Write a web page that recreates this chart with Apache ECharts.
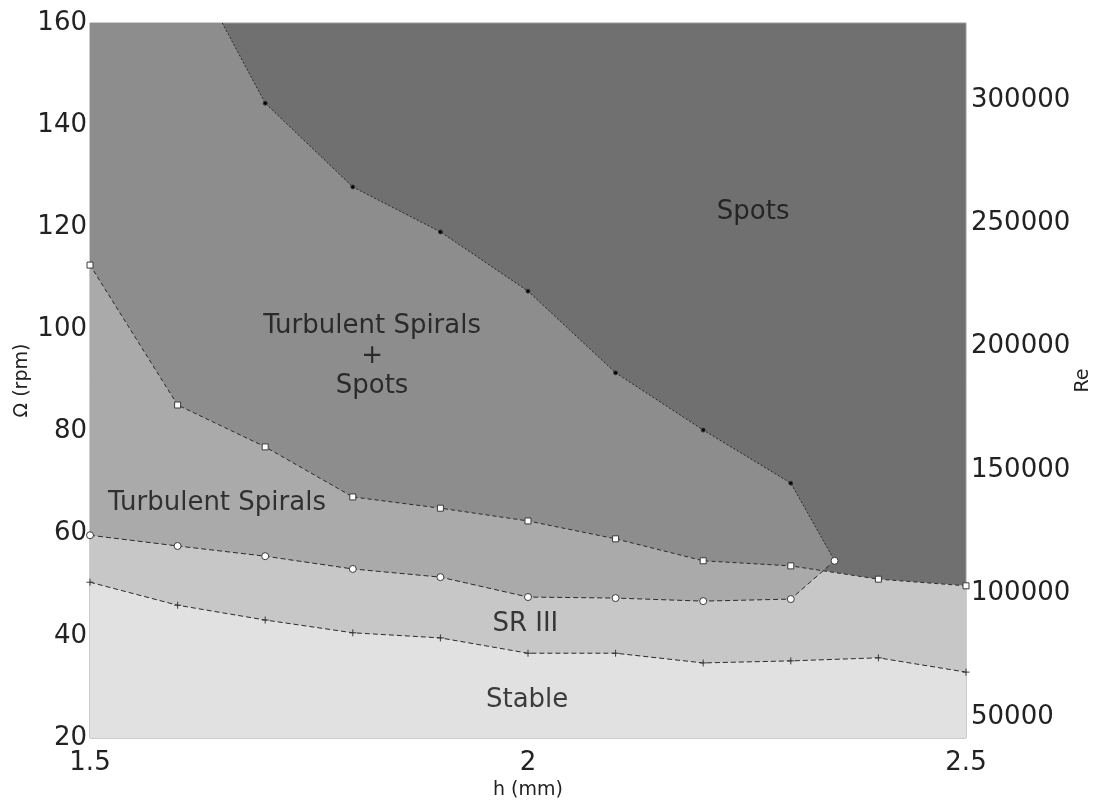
<!DOCTYPE html>
<html>
<head>
<meta charset="utf-8">
<title>Flow regimes: Ω vs h</title>
<script src="https://cdn.jsdelivr.net/npm/echarts@6/dist/echarts.min.js"></script>
<style>
  html, body { margin: 0; padding: 0; background: #ffffff; }
  #chart { width: 1095px; height: 806px; }
</style>
</head>
<body>
<div id="chart"></div>
<script>
// Gap widths h (mm) at which the transitions were measured
const hValues = [1.5, 1.6, 1.7, 1.8, 1.9, 2.0, 2.1, 2.2, 2.3, 2.4, 2.5];

// Stable -> SR III transition (rpm), one value per hValues entry
const stableLimit = [50.5, 46.0, 43.1, 40.6, 39.6, 36.6, 36.6, 34.7, 35.1, 35.7, 32.9];

// SR III -> Turbulent Spirals transition (rpm); last point is the triple point
const sr3H = [1.5, 1.6, 1.7, 1.8, 1.9, 2.0, 2.1, 2.2, 2.3, 2.35];
const sr3Limit = [59.7, 57.6, 55.6, 53.1, 51.5, 47.6, 47.4, 46.8, 47.2, 54.7];

// Turbulent Spirals -> Turbulent Spirals + Spots transition (rpm), per hValues
const spiralLimit = [112.6, 85.2, 77.0, 67.2, 65.0, 62.5, 59.0, 54.7, 53.7, 51.1, 49.8];

// Onset of pure Spots (rpm); starts where it leaves the top of the range
const spotsH = [1.651, 1.7, 1.8, 1.9, 2.0, 2.1, 2.2, 2.3, 2.35];
const spotsLimit = [160, 144.3, 127.9, 119.1, 107.5, 91.5, 80.3, 69.9, 54.7];

// Axis ranges and ticks
const omegaMin = 20, omegaMax = 160, omegaStep = 20;
const hTicks = [1.5, 2, 2.5];
const reTicks = [50000, 100000, 150000, 200000, 250000, 300000];
const rePerRpm = 2070; // Re = rePerRpm * Ω

// Region names
const regionNames = ['Spots', 'Turbulent Spirals\n+\nSpots', 'Turbulent Spirals', 'SR III', 'Stable'];

// Where each region name is written (h, Ω)
const regionAnchors = [[2.257, 123.0], [1.822, 94.8], [1.645, 66.0], [1.997, 42.3], [1.999, 27.4]];

const zip = (xs, ys) => xs.map((x, i) => [x, ys[i]]);

const stablePts = zip(hValues, stableLimit);
const sr3Pts = zip(sr3H, sr3Limit);
const spiralPts = zip(hValues, spiralLimit);
const spotsPts = zip(spotsH, spotsLimit);

// Where the last SR III segment crosses the spiral boundary
function segmentCrossing(a, b, c, d) {
  const r = [b[0] - a[0], b[1] - a[1]];
  const s = [d[0] - c[0], d[1] - c[1]];
  const den = r[0] * s[1] - r[1] * s[0];
  if (Math.abs(den) < 1e-12) return null;
  const t = ((c[0] - a[0]) * s[1] - (c[1] - a[1]) * s[0]) / den;
  const u = ((c[0] - a[0]) * r[1] - (c[1] - a[1]) * r[0]) / den;
  if (t < 0 || t > 1 || u < 0 || u > 1) return null;
  return [a[0] + t * r[0], a[1] + t * r[1]];
}
let junction = null;
{
  const a = sr3Pts[sr3Pts.length - 2], b = sr3Pts[sr3Pts.length - 1];
  for (let i = 0; i < spiralPts.length - 1 && !junction; i++) {
    junction = segmentCrossing(a, b, spiralPts[i], spiralPts[i + 1]);
  }
}
const spiralAfterJunction = spiralPts.filter(p => p[0] > junction[0]);

// Upper outlines of the filled bands (each fills down to Ω = omegaMin)
const mixedTop = [[hValues[0], omegaMax]].concat(spotsPts, [junction], spiralAfterJunction);
const spiralTop = spiralPts;
const sr3Top = sr3Pts.slice(0, -1).concat([junction], spiralAfterJunction);
const stableTop = stablePts;

const colors = {
  spots: '#707070',
  mixed: '#8d8d8d',
  spirals: '#aaaaaa',
  sr3: '#c7c7c7',
  stable: '#e1e1e1'
};

function band(data, color, z) {
  return {
    type: 'line',
    data: data,
    symbol: 'none',
    silent: true,
    z: z,
    lineStyle: { width: 0, opacity: 0 },
    areaStyle: { color: color, opacity: 1, origin: 'start' }
  };
}

function boundary(data, symbol, size, fill, dash, z) {
  return {
    type: 'line',
    data: data,
    symbol: symbol,
    symbolSize: size,
    showSymbol: true,
    silent: true,
    z: z,
    lineStyle: { color: '#2a2a2a', width: 1, type: dash },
    itemStyle: { color: fill, borderColor: '#3a3a3a', borderWidth: 1 }
  };
}

// The Spots line starts at the frame and ends on the triple point (marked by the SR III line)
const spotsLineData = spotsPts.map((p, i) =>
  (i === 0 || i === spotsPts.length - 1) ? { value: p, symbol: 'none' } : p);

const fontFamily = 'DejaVu Sans, sans-serif';

const chart = echarts.init(document.getElementById('chart'), null, { renderer: 'canvas' });

chart.setOption({
  animation: false,
  backgroundColor: '#ffffff',
  grid: {
    left: 90, right: 129, top: 23, bottom: 68,
    outerBoundsMode: 'none',
    containLabel: false,
    show: true,
    backgroundColor: colors.spots,
    borderColor: '#9a9a9a',
    borderWidth: 1
  },
  xAxis: {
    type: 'value',
    min: hTicks[0], max: hTicks[hTicks.length - 1], interval: 0.5,
    name: 'h (mm)',
    nameLocation: 'middle',
    nameGap: 43,
    nameMoveOverlap: false,
    nameTextStyle: { fontFamily, fontSize: 19, color: '#222' },
    axisLine: { show: false },
    axisTick: { show: false },
    splitLine: { show: false },
    axisLabel: {
      fontFamily, fontSize: 26, color: '#222', margin: 12,
      customValues: hTicks,
      formatter: v => String(v)
    }
  },
  yAxis: [
    {
      type: 'value',
      min: omegaMin, max: omegaMax, interval: omegaStep,
      name: 'Ω (rpm)',
      nameLocation: 'middle',
      nameRotate: 90,
      nameGap: 58,
      nameMoveOverlap: false,
      nameTextStyle: { fontFamily, fontSize: 19, color: '#222' },
      axisLine: { show: false },
      axisTick: { show: false },
      splitLine: { show: false },
      axisLabel: { fontFamily, fontSize: 26, color: '#222', margin: 3 }
    },
    {
      type: 'value',
      position: 'right',
      min: omegaMin * rePerRpm, max: omegaMax * rePerRpm,
      name: 'Re',
      nameLocation: 'middle',
      nameRotate: 90,
      nameGap: 108,
      nameMoveOverlap: false,
      nameTextStyle: { fontFamily, fontSize: 19, color: '#222' },
      axisLine: { show: false },
      axisTick: { show: false },
      splitLine: { show: false },
      axisLabel: {
        fontFamily, fontSize: 26, color: '#222', margin: 5,
        customValues: reTicks,
        formatter: v => String(v)
      }
    }
  ],
  series: [
    band(mixedTop, colors.mixed, 1),
    band(spiralTop, colors.spirals, 2),
    band(sr3Top, colors.sr3, 3),
    band(stableTop, colors.stable, 4),
    boundary(stablePts, 'path://M0,5L10,5M5,0L5,10', 7, 'none', [5, 3], 6),
    boundary(spiralPts, 'rect', 6, '#ffffff', [4, 3], 7),
    boundary(spotsLineData, 'circle', 4, '#000000', [2, 2], 8),
    boundary(sr3Pts, 'circle', 7, '#ffffff', [5, 3], 9),
    {
      type: 'scatter',
      silent: true,
      z: 10,
      symbolSize: 1,
      itemStyle: { color: 'rgba(0,0,0,0)' },
      data: regionAnchors.map((p, i) => ({ value: p, name: regionNames[i] })),
      label: {
        show: true,
        position: 'inside',
        formatter: p => p.name,
        fontFamily, fontSize: 26, color: '#111111',
        lineHeight: 30, align: 'center', verticalAlign: 'middle'
      }
    }
  ]
});
</script>
</body>
</html>
